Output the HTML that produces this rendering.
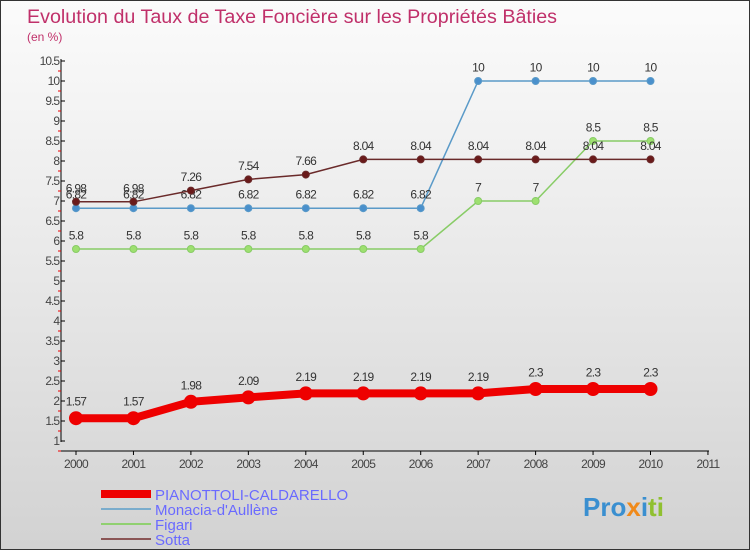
<!DOCTYPE html>
<html><head><meta charset="utf-8"><style>
body{margin:0}
#c{width:748px;height:548px;border:1px solid #333;background:linear-gradient(#fbfbfb,#e8e8e8 50%,#d2d2d2);position:relative;overflow:hidden;font-family:"Liberation Sans",sans-serif}
</style></head><body>
<div id="c">
<svg id="s" width="748" height="548">
<text x="26" y="22" font-size="19.7" fill="#c0306a">Evolution du Taux de Taxe Foncière sur les Propriétés Bâties</text>
<text x="26" y="40" font-size="12" fill="#c0306a">(en %)</text>
<g id="axes"></g><g id="series"></g>
<g>
<rect x="100" y="489" width="50" height="8" fill="#e00"/>
<rect x="100" y="507" width="50" height="2" fill="#7aaccc"/>
<rect x="100" y="522" width="50" height="2" fill="#90d070"/>
<rect x="100" y="537" width="50" height="2" fill="#8a5555"/>
<g font-size="15" fill="#6a6aff">
<text x="154" y="499">PIANOTTOLI-CALDARELLO</text>
<text x="154" y="514">Monacia-d'Aullène</text>
<text x="154" y="529">Figari</text>
<text x="154" y="544">Sotta</text></g></g>
<text x="582" y="515" font-size="26" font-weight="bold"><tspan fill="#3a8fd0">Pro</tspan><tspan fill="#f08a1a">x</tspan><tspan fill="#3a8fd0">i</tspan><tspan fill="#90c030">ti</tspan></text>
</svg></div>
<script>
const years=[2000,2001,2002,2003,2004,2005,2006,2007,2008,2009,2010];
const pianottoli=[1.57,1.57,1.98,2.09,2.19,2.19,2.19,2.19,2.3,2.3,2.3];
const monacia=[6.82,6.82,6.82,6.82,6.82,6.82,6.82,10,10,10,10];
const figari=[5.8,5.8,5.8,5.8,5.8,5.8,5.8,7,7,8.5,8.5];
const sotta=[6.98,6.98,7.26,7.54,7.66,8.04,8.04,8.04,8.04,8.04,8.04];
const xTicks=[2000,2001,2002,2003,2004,2005,2006,2007,2008,2009,2010,2011];
const yTicks=[1,1.5,2,2.5,3,3.5,4,4.5,5,5.5,6,6.5,7,7.5,8,8.5,9,9.5,10,10.5];
const X=y=>75+(y-2000)*57.45, Y=v=>440-(v-1)*40;
const NS="http://www.w3.org/2000/svg";
function mk(t,a,p){const e=document.createElementNS(NS,t);for(const k in a)e.setAttribute(k,a[k]);p.appendChild(e);return e;}
const ax=document.getElementById('axes'),se=document.getElementById('series');
const yl=mk('line',{x1:60,y1:58,x2:60,y2:441,stroke:'#000'},ax);


const xl=mk('line',{x1:60,y1:450,x2:708,y2:450,stroke:'#000'},ax);


yTicks.forEach(v=>{
 mk('line',{x1:60,x2:64,y1:Y(v),y2:Y(v),stroke:'#000'},ax);
 mk('line',{x1:57,x2:60,y1:Y(v)+10,y2:Y(v)+10,stroke:'#e00'},ax);
 const t=mk('text',{x:58,y:Y(v)+4,'text-anchor':'end','font-size':12,fill:'#444','letter-spacing':'-1'},ax);
 t.textContent=v;
 
 
});
xTicks.forEach(y=>{
 mk('line',{x1:X(y),x2:X(y),y1:450,y2:454,stroke:'#000'},ax);
 const t=mk('text',{x:X(y),y:467,'text-anchor':'middle','font-size':12,fill:'#444','letter-spacing':'-0.7'},ax);
 t.textContent=y;
 
 
});
function draw(data,name,color,w,r,fill){
 const g=mk('g',{},se);
 
 
 const l=mk('polyline',{points:data.map((v,i)=>X(years[i])+','+Y(v)).join(' '),fill:'none',stroke:color,'stroke-width':w},g);
 
 
 data.forEach((v,i)=>{
  const c=mk('circle',{cx:X(years[i]),cy:Y(v),r:r,fill:fill,stroke:color},g);
  
  
  const t=mk('text',{x:X(years[i]),y:Y(v)-(r+6),'text-anchor':'middle','font-size':12,fill:'#333','letter-spacing':'-0.7'},g);
  t.textContent=v;
  
  
 });
}
draw(figari,'figari','#88cc66',1.5,3.5,'#9ee070');
draw(monacia,'monacia','#5a9ac8',1.5,3.5,'#4a90cc');
draw(sotta,'sotta','#6a2a2a',1.5,3.5,'#6a1a1a');
draw(pianottoli,'pianottoli','#e00',8,6.5,'#e00');
</script>
</body></html>
